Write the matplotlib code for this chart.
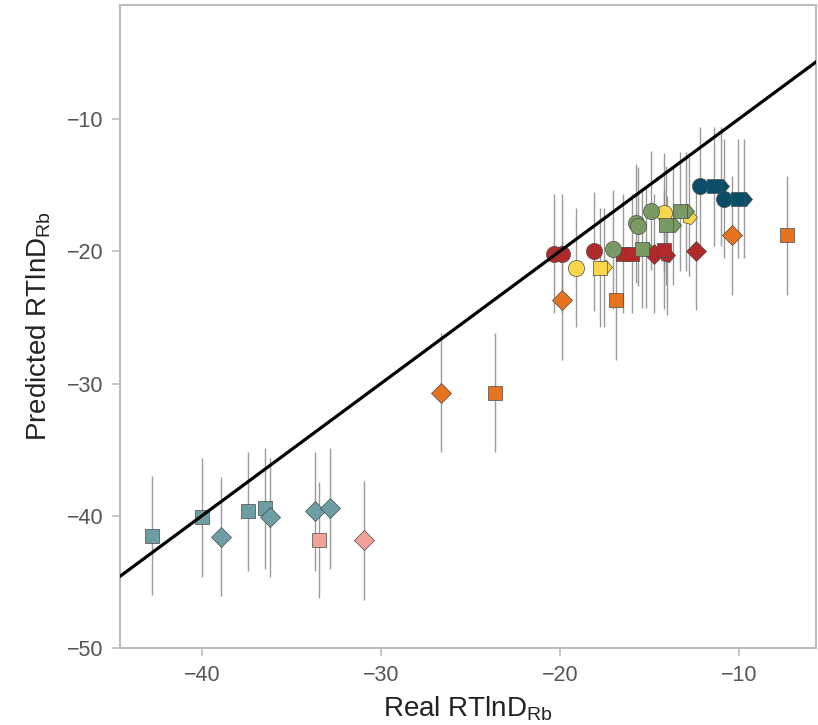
import numpy as np
import matplotlib
matplotlib.use("Agg")
import matplotlib.pyplot as plt
from matplotlib.markers import MarkerStyle
from matplotlib.transforms import Affine2D

plt.rcParams['font.family'] = ['Liberation Sans', 'DejaVu Sans']
plt.rcParams['mathtext.fontset'] = 'custom'
plt.rcParams['mathtext.rm'] = 'Liberation Sans'
plt.rcParams['mathtext.it'] = 'Liberation Sans:italic'

# real / predicted values, error (half length of bar), group, shape
real = [-42.8, -40.0, -38.95, -37.4, -36.5, -36.2, -33.7, -32.85,
        -33.45, -30.95,
        -26.65, -23.65, -19.9, -16.85, -10.4, -7.3,
        -20.35, -19.9, -18.1, -16.45, -15.95, -14.75, -14.0, -14.2, -12.4,
        -19.1, -17.55, -17.75, -14.2, -12.8,
        -17.05, -15.2, -15.42, -15.77, -15.64, -14.9, -13.65, -14.06, -12.95, -13.3,
        -12.15, -11.0, -11.37, -10.84, -9.7, -10.06]
pred = [-41.5, -40.1, -41.6, -39.65, -39.45, -40.1, -39.65, -39.45,
        -41.85, -41.85,
        -30.7, -30.7, -23.7, -23.7, -18.8, -18.8,
        -20.2, -20.2, -20.0, -20.2, -20.2, -20.2, -20.3, -19.9, -19.95,
        -21.25, -21.2, -21.25, -17.1, -17.4,
        -19.85, -19.8, -19.8, -17.9, -18.1, -16.95, -18.05, -18.05, -16.97, -16.97,
        -15.08, -15.08, -15.08, -16.04, -16.04, -16.04]
err = [4.5, 4.5, 4.5, 4.5, 4.6, 4.5, 4.5, 4.6,
       4.4, 4.5,
       4.5, 4.5, 4.5, 4.5, 4.5, 4.5,
       4.5, 4.5, 4.5, 4.5, 4.5, 4.5, 4.5, 4.5, 4.5,
       4.5, 4.5, 4.5, 4.5, 4.5,
       4.5, 4.5, 4.5, 4.5, 4.5, 4.5, 4.5, 4.5, 4.5, 4.5,
       4.5, 4.5, 4.5, 4.5, 4.5, 4.5]
grupo = (['steel'] * 8 + ['pink'] * 2 + ['orange'] * 6 + ['red'] * 9
         + ['yellow'] * 5 + ['green'] * 10 + ['navy'] * 6)
forma = ['s', 's', 'D', 's', 's', 'D', 'D', 'D',
         's', 'D',
         'D', 's', 'D', 's', 'D', 's',
         'o', 'o', 'o', 's', 's', 'D', 'p', 's', 'D',
         'o', 'p', 's', 'o', 'p',
         'o', 'p', 's', 'o', 'o', 'o', 'p', 's', 'p', 's',
         'o', 'p', 's', 'o', 'p', 's']

colores = {'steel': '#6d9ea4', 'pink': '#f2a196', 'orange': '#e8731f',
           'red': '#b0292b', 'yellow': '#f9d64b', 'green': '#7a9a64',
           'navy': '#0b4d66'}

pent = MarkerStyle('p', transform=Affine2D().rotate_deg(-90))
marcadores = {'o': ('o', 11.6), 's': ('s', 10.6), 'D': ('D', 10.4), 'p': (pent, 11.2)}

fig = plt.figure(figsize=(8.18, 7.25), dpi=100)
ax = fig.add_axes([0.1467, 0.1062, 0.851, 0.8869])

# barras de error
ax.vlines(real, np.array(pred) - np.array(err), np.array(pred) + np.array(err),
          color='#8a8a8a', lw=1, alpha=0.85, zorder=1)

# pentagonos primero (quedan detras)
orden = sorted(range(len(real)), key=lambda i: 0 if forma[i] == 'p' else 1)
for i in orden:
    m, ms = marcadores[forma[i]]
    ax.plot(real[i], pred[i], linestyle='none', marker=m, markersize=ms,
            markerfacecolor=colores[grupo[i]], markeredgecolor='#4a4a4a',
            markeredgewidth=0.5, zorder=2)

# linea y = x
lim = np.array([-60, 0])
ax.plot(lim, lim, color='black', lw=2.3, zorder=3)

ax.set_xlim(-44.58, -5.68)
ax.set_ylim(-50, -1.38)
ax.set_xticks([-40, -30, -20, -10])
ax.set_yticks([-50, -40, -30, -20, -10])

for s in ax.spines.values():
    s.set_color('#bdbdbd')
    s.set_linewidth(1.5)
ax.tick_params(direction='out', length=6, width=1.2, color='#bdbdbd',
               labelcolor='#555555', labelsize=15.5, pad=6)

ax.set_xlabel(r'Real RTlnD$_{\mathrm{Rb}}$', fontsize=20, color='#222222', labelpad=6)
ax.set_ylabel(r'Predicted RTlnD$_{\mathrm{Rb}}$', fontsize=20, color='#222222', labelpad=10)

plt.savefig('out.png', dpi=100)
